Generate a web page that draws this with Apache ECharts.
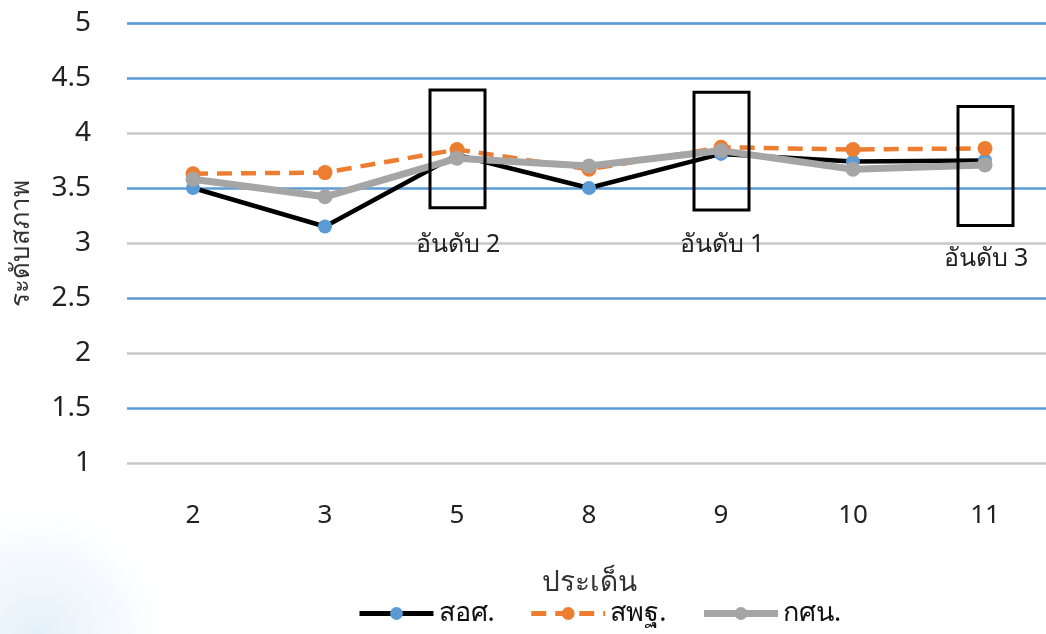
<!DOCTYPE html>
<html>
<head>
<meta charset="utf-8">
<script src="https://cdn.jsdelivr.net/npm/echarts@6/dist/echarts.min.js"></script>
<style>
html,body{margin:0;padding:0;background:#fff;}
#chart{width:1046px;height:634px;}
</style>
</head>
<body>
<div id="chart"></div>
<script>
const categories = ['2', '3', '5', '8', '9', '10', '11'];
const seriesNames = ['สอศ.', 'สพฐ.', 'กศน.'];
const valuesSOS = [3.50, 3.15, 3.80, 3.50, 3.81, 3.74, 3.75];
const valuesSPT = [3.63, 3.64, 3.85, 3.67, 3.87, 3.85, 3.86];
const valuesKSN = [3.58, 3.42, 3.77, 3.70, 3.84, 3.67, 3.71];
const yTicks = { min: 1, max: 5, interval: 0.5 };
// rank boxes: [category index, box bottom value, box top value, label, label value]
const rankBoxes = [
  [2, 3.32, 4.39, 'อันดับ 2', 2.98],
  [4, 3.30, 4.37, 'อันดับ 1', 2.98],
  [6, 3.16, 4.24, 'อันดับ 3', 2.86]
];
const xAxisTitle = 'ประเด็น';
const yAxisTitle = 'ระดับสภาพ';

const FONT = "Tahoma, 'Noto Sans', 'DejaVu Sans', sans-serif";
const chart = echarts.init(document.getElementById('chart'));
chart.setOption({
  backgroundColor: '#ffffff',
  animation: false,
  textStyle: { fontFamily: FONT },
  graphic: [{
    type: 'rect',
    z: -100,
    silent: true,
    shape: { x: 0, y: 470, width: 760, height: 164 },
    style: {
      fill: new echarts.graphic.RadialGradient(0.05, 1.0, 0.85, [
        { offset: 0, color: 'rgba(220,236,248,0.8)' },
        { offset: 0.6, color: 'rgba(236,244,251,0.5)' },
        { offset: 1, color: 'rgba(255,255,255,0)' }
      ])
    }
  }],
  grid: { left: 127, top: 23, width: 924, height: 440, containLabel: false, outerBoundsMode: 'none' },
  legend: {
    data: [
      { name: seriesNames[0], lineStyle: { width: 5 } },
      { name: seriesNames[1], lineStyle: { width: 5 } },
      { name: seriesNames[2], lineStyle: { width: 7 } }
    ],
    bottom: 2,
    left: 352,
    itemWidth: 74,
    itemHeight: 16,
    itemGap: 34,
    textStyle: { fontSize: 27, color: '#111', fontFamily: FONT }
  },
  xAxis: {
    type: 'category',
    data: categories,
    boundaryGap: true,
    axisLine: { show: false },
    axisTick: { show: false },
    axisLabel: { fontSize: 26, color: '#222', margin: 40, fontFamily: FONT },
    name: xAxisTitle,
    nameLocation: 'middle',
    nameGap: 106,
    nameTextStyle: { fontSize: 28, color: '#333', fontFamily: FONT }
  },
  yAxis: {
    type: 'value',
    min: yTicks.min,
    max: yTicks.max,
    interval: yTicks.interval,
    axisLine: { show: false },
    axisTick: { show: false },
    axisLabel: { fontSize: 28, color: '#222', margin: 36, fontFamily: FONT },
    splitLine: { lineStyle: { color: ['#c8c8c8', '#5b9bd5'], width: 2.5 } },
    name: yAxisTitle,
    nameLocation: 'middle',
    nameRotate: 90,
    nameGap: 92,
    nameTextStyle: { fontSize: 26, color: '#333', fontFamily: FONT }
  },
  series: [
    {
      name: seriesNames[0],
      type: 'line',
      data: valuesSOS,
      symbol: 'circle',
      symbolSize: 14,
      itemStyle: { color: '#5b9bd5' },
      lineStyle: { color: '#000000', width: 4.5 },
      markLine: {
        silent: true,
        symbol: 'none',
        label: { show: false },
        lineStyle: { color: '#5b9bd5', width: 2.5, type: 'solid' },
        data: [{ yAxis: yTicks.max }]
      }
    },
    {
      name: seriesNames[1],
      type: 'line',
      data: valuesSPT,
      symbol: 'circle',
      symbolSize: 15,
      itemStyle: { color: '#ed7d31' },
      lineStyle: { color: '#ed7d31', width: 4.5, type: [15, 9] }
    },
    {
      name: seriesNames[2],
      type: 'line',
      data: valuesKSN,
      symbol: 'circle',
      symbolSize: 15,
      itemStyle: { color: '#a5a5a5' },
      lineStyle: { color: '#a5a5a5', width: 7 }
    },
    {
      name: 'rank',
      type: 'custom',
      data: rankBoxes,
      z: 10,
      renderItem: function (params, api) {
        const idx = api.value(0);
        const bottom = api.coord([idx, api.value(1)]);
        const top = api.coord([idx, api.value(2)]);
        const lab = api.coord([idx, api.value(4)]);
        const text = rankBoxes[params.dataIndex][3];
        return {
          type: 'group',
          children: [
            {
              type: 'rect',
              shape: { x: bottom[0] - 27, y: top[1], width: 55, height: bottom[1] - top[1] },
              style: { fill: 'none', stroke: '#000', lineWidth: 3 }
            },
            {
              type: 'text',
              style: {
                text: text,
                x: bottom[0] + 1,
                y: lab[1],
                align: 'center',
                verticalAlign: 'middle',
                font: '25px ' + FONT,
                fill: '#222'
              }
            }
          ]
        };
      }
    }
  ]
});
</script>
</body>
</html>
